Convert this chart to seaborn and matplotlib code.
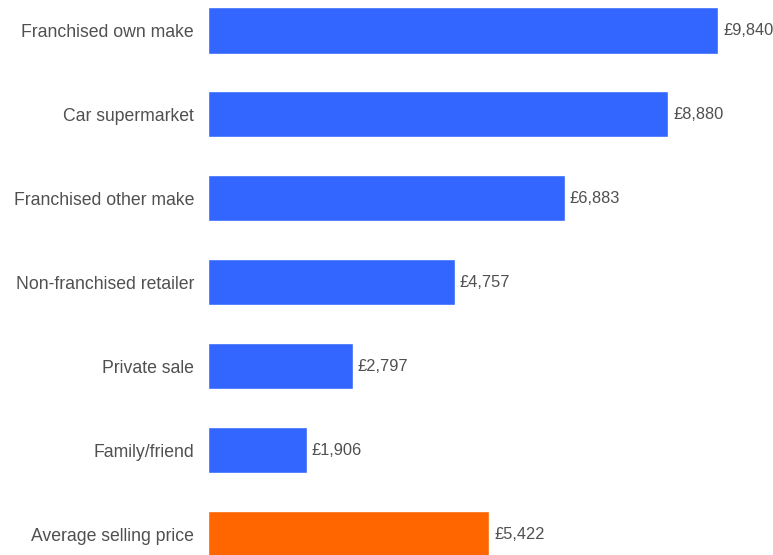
import matplotlib
matplotlib.use("Agg")
import matplotlib.pyplot as plt
import seaborn as sns
import pandas as pd

categories = [
    "Franchised own make",
    "Car supermarket",
    "Franchised other make",
    "Non-franchised retailer",
    "Private sale",
    "Family/friend",
    "Average selling price",
]
values = [9840, 8880, 6883, 4757, 2797, 1906, 5422]
bar_colors = ["#3366ff"] * 6 + ["#ff6600"]

sns.set_theme(style="white")
plt.rcParams["font.family"] = ["Liberation Sans", "DejaVu Sans"]

df = pd.DataFrame({"category": categories, "value": values})

fig = plt.figure(figsize=(7.73, 5.55), dpi=100)
ax = fig.add_axes([208 / 773, 0, 1 - 208 / 773, 1])

sns.barplot(
    data=df, x="value", y="category", hue="category",
    palette=bar_colors, order=categories, hue_order=categories,
    width=0.55, legend=False, ax=ax, saturation=1,
)

ax.set_xlim(0, 10900)
ax.set_ylim(6.25, -0.363)
ax.set_xlabel("")
ax.set_ylabel("")
ax.set_xticks([])
ax.tick_params(axis="y", length=0, pad=10, labelsize=12.7, labelcolor="#505050")
sns.despine(ax=ax, left=True, bottom=True, top=True, right=True)

for i, v in enumerate(values):
    ax.annotate(f"£{v:,}", xy=(v, i), xytext=(3.6, 0), textcoords="offset points",
                va="center", ha="left", fontsize=11.8, color="#505050")

fig.savefig("out.png", dpi=100)
